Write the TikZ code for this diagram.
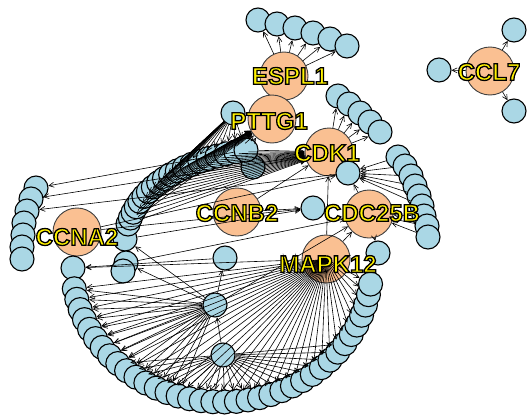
\documentclass[tikz,border=0pt]{standalone}
\usepackage{xcolor}
\usepackage{fontspec}
\setmainfont{Liberation Sans}
\usepackage{tikz}
\usetikzlibrary{arrows.meta}
\definecolor{hubfill}{RGB}{250,192,146}
\definecolor{satfill}{RGB}{170,215,229}
% yellow letters, stroked black
\newcommand{\genename}[1]{\textcolor{yellow}{\special{pdf:literal direct 0 0 0 RG 1.3 w 2 Tr}#1\special{pdf:literal direct 0 Tr}}}

\begin{document}
\begin{tikzpicture}[x=1pt,y=-1pt,
  hub/.style={circle,draw=black!75,line width=0.9pt,fill=hubfill,minimum size=48pt,inner sep=0pt},
  sat/.style={circle,draw=black,line width=1.1pt,fill=satfill,minimum size=24pt,inner sep=0pt},
  gene/.style={font=\bfseries\fontsize{24}{24}\selectfont,inner sep=0pt},
  link/.style={-{Straight Barb[length=5pt,width=5pt]},line width=0.6pt}]
  \useasboundingbox (0,0) rectangle (527,415);

  % hubs
  \node[hub] (espl1) at (284,76) {};
  \node[hub] (pttg1) at (272,119) {};
  \node[hub] (cdk1) at (329,152) {};
  \node[hub] (ccnb2) at (237,212) {};
  \node[hub] (cdc25b) at (369,214) {};
  \node[hub] (ccna2) at (77,232) {};
  \node[hub] (mapk12) at (326,259) {};
  \node[hub] (ccl7) at (490,71) {};

  % satellites
  \node[sat] (k1) at (439,70) {};
  \node[sat] (k2) at (514,30) {};
  \node[sat] (k3) at (514,111) {};
  \foreach \p [count=\i] in {(258,20),(277,24),(295,28),(313,33),(330,39),(347,46)}
    \node[sat] (e\i) at \p {};
  \foreach \p [count=\i] in {(338,96),(349,104),(360,113),(370,122),(380,132)}
    \node[sat] (d\i) at \p {};
  \foreach \p [count=\i] in {(398,157),(405,166),(411,176),(415,186),(419,196),(422,206),(424,216),(427,226),(428,237)}
    \node[sat] (b\i) at \p {};
  \foreach \p [count=\i] in {(36,188),(31,199),(27,211),(24,223),(23,235),(22,247),(22,259)}
    \node[sat] (l\i) at \p {};
  \node[sat] (pt) at (233,113) {};
  \node[sat] (ck) at (348,173) {};
  \node[sat] (cb) at (313,208) {};
  \node[sat] (cr) at (378,253) {};
  \node[sat] (ce) at (253,167) {};
  \node[sat] (cn) at (225,258) {};
  \node[sat] (sa) at (215,305) {};
  \node[sat] (sb) at (223,355) {};
  \node[sat] (r1) at (125,239) {};
  \node[sat] (r2) at (126,263) {};
  \node[sat] (r3) at (123,271) {};
  \node[sat] (ca) at (73,268) {};
  \foreach \i in {0,...,19}{
    \pgfmathsetmacro\s{\i/19}
    \node[sat] (mid\i) at ({(1-\s)^2*128+2*\s*(1-\s)*148+\s^2*246},{(1-\s)^2*224+2*\s*(1-\s)*166+\s^2*150}) {};
  }
  \foreach \i in {0,...,36}{
    \pgfmathsetmacro\t{170-4.5*\i}
    \node[sat] (arc\i) at ({222+150*cos(\t)},{265+137*sin(\t)}) {};
  }

  % edges
  \foreach \i in {1,...,6} \path[link] (espl1) edge (e\i);
  \foreach \i in {1,2,3} \path[link] (ccl7) edge (k\i);
  \foreach \i in {1,...,5} \path[link] (cdk1) edge (d\i);
  \foreach \i in {1,...,6} \path[link] (b\i) edge (ck);
  \foreach \i in {7,8,9} \path[link] (b\i) edge (cdc25b);
  \foreach \i in {0,...,19}
    \path[link] (pt) edge (mid\i) (mid\i) edge (pttg1) (mid\i) edge (cdk1);
  \foreach \i in {0,...,36} \path[link] (mapk12.center) edge (arc\i);
  \foreach \i in {0,...,14} \path[link] (sa) edge (arc\i);
  \foreach \i in {8,...,30} \path[link] (sb) edge (arc\i);
  \path[link]
    (mid19) edge (l1)
    (cdk1) edge (l2)
    (ck) edge (l3)
    (ccna2) edge (ck)
    (ccna2) edge (cb)
    (r1) edge (cb)
    (r2) edge (cdc25b)
    (sa) edge (r1)
    (sa) edge (r2)
    (mapk12) edge (ca)
    (cn) edge (ca)
    (sa) edge (cdc25b)
    (sb) edge (sa)
    (sa) edge (cn)
    (ce) edge (cdk1)
    (cdc25b) edge (ck)
    (ccnb2) edge (cdk1)
    (ccnb2) edge (cb)
    (mapk12) edge (cdc25b)
    (mapk12) edge (cdk1)
    (cdc25b) edge (cr);

  % gene names
  \node[gene] (espl1-name) at (290,76) {\genename{ESPL1}};
  \node[gene] (pttg1-name) at (269,121) {\genename{PTTG1}};
  \node[gene] (cdk1-name) at (327,153) {\genename{CDK1}};
  \node[gene] (ccnb2-name) at (237,213) {\genename{CCNB2}};
  \node[gene] (cdc25b-name) at (372,213) {\genename{CDC25B}};
  \node[gene] (ccna2-name) at (77,237) {\genename{CCNA2}};
  \node[gene] (mapk12-name) at (328,264) {\genename{MAPK12}};
  \node[gene] (ccl7-name) at (489,72) {\genename{CCL7}};
\end{tikzpicture}
\end{document}
